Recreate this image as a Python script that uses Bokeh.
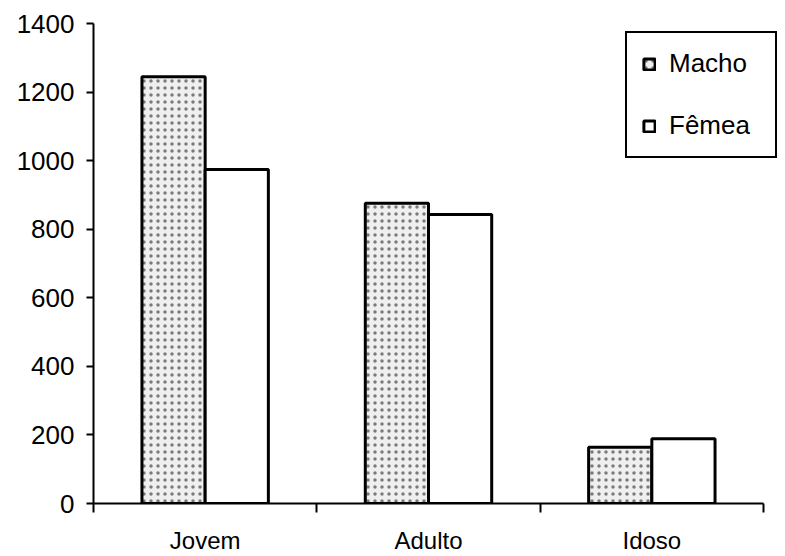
from bokeh.plotting import figure
from bokeh.models import ColumnDataSource, Range1d, FixedTicker, Legend, LegendItem
from bokeh.embed import file_html
from bokeh.resources import INLINE

# Contagem por faixa etária e sexo
categorias = ["Jovem", "Adulto", "Idoso"]
macho = [1245, 876, 164]
femea = [974, 843, 189]
y_ticks = [0, 200, 400, 600, 800, 1000, 1200, 1400]

BAR_W = 0.283
FONT = "Liberation Sans"
N = len(categorias)

centros = [i + 0.5 for i in range(N)]
src_m = ColumnDataSource(dict(x=[c - BAR_W / 2 for c in centros], top=macho))
src_f = ColumnDataSource(dict(x=[c + BAR_W / 2 for c in centros], top=femea))

# A área de plotagem vai um pouco além do eixo x para caber a legenda
x_end = N * 685 / 670
p = figure(width=785, height=556, output_backend="svg", toolbar_location=None,
           x_range=Range1d(0, x_end), y_range=Range1d(0, 1400),
           min_border_left=93, min_border_right=7, min_border_top=23, min_border_bottom=53)
p.outline_line_color = None
p.xgrid.visible = False
p.ygrid.visible = False

r_m = p.vbar(x="x", top="top", width=BAR_W, bottom=0, source=src_m,
             fill_color="#efefef", line_color="black", line_width=3,
             hatch_pattern="dot", hatch_color="#7a7a7a", hatch_scale=7, hatch_weight=1.2)
r_f = p.vbar(x="x", top="top", width=BAR_W, bottom=0, source=src_f,
             fill_color="white", line_color="black", line_width=3)

# Eixo x: rótulos no centro de cada categoria, marcas nas divisões
p.xaxis.bounds = (0, N)
p.xaxis.ticker = FixedTicker(ticks=centros, minor_ticks=list(range(N + 1)))
p.xaxis.major_label_overrides = {c: n for c, n in zip(centros, categorias)}
p.xaxis.major_tick_out = 0
p.xaxis.major_tick_in = 0
p.xaxis.minor_tick_out = 9
p.xaxis.minor_tick_in = 0
p.xaxis.minor_tick_line_width = 2
p.xaxis.axis_line_width = 2
p.xaxis.major_label_standoff = 14
p.xaxis.major_label_text_font = FONT
p.xaxis.major_label_text_font_size = "24px"
p.xaxis.major_label_text_color = "black"

p.yaxis.ticker = FixedTicker(ticks=y_ticks)
p.yaxis.minor_tick_line_color = None
p.yaxis.major_tick_out = 7
p.yaxis.major_tick_in = 0
p.yaxis.major_tick_line_width = 2
p.yaxis.axis_line_width = 2
p.yaxis.major_label_standoff = 12
p.yaxis.major_label_text_font = FONT
p.yaxis.major_label_text_font_size = "26px"
p.yaxis.major_label_text_color = "black"

legend = Legend(items=[LegendItem(label="Macho", renderers=[r_m]),
                       LegendItem(label="Fêmea", renderers=[r_f])],
                location=(532, 345), orientation="vertical",
                label_text_font=FONT, label_text_font_size="26px",
                label_text_color="black", label_width=91,
                glyph_width=14, glyph_height=14, label_standoff=13,
                padding=15, spacing=31, margin=0,
                border_line_color="black", border_line_width=2, border_line_alpha=1,
                background_fill_color="white", background_fill_alpha=1)
p.add_layout(legend, "center")

open("out.html", "w").write(file_html(p, INLINE))
